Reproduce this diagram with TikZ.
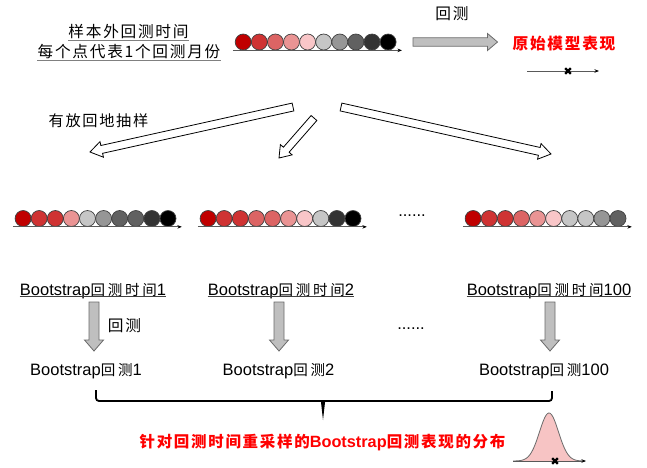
\documentclass[tikz,border=0pt]{standalone}
\usepackage{fontspec}
\setmainfont{Liberation Sans}
\newfontfamily\zhf{Noto Sans CJK SC}[Scale=0.95,LetterSpace=11]
\newfontfamily\zhsf{Noto Sans CJK SC}[Scale=0.88,LetterSpace=19]
\newcommand\zh[1]{{\zhf #1}}
\newcommand\zhs[1]{{\zhsf #1}}
\usetikzlibrary{calc,arrows.meta}
\definecolor{c1}{HTML}{C00000}
\definecolor{c2}{HTML}{CF3333}
\definecolor{c3}{HTML}{DC6464}
\definecolor{c4}{HTML}{EA9494}
\definecolor{c5}{HTML}{F9C6C8}
\definecolor{c6}{HTML}{C6C6C6}
\definecolor{c7}{HTML}{969696}
\definecolor{c8}{HTML}{616161}
\definecolor{c9}{HTML}{333333}
\definecolor{c10}{HTML}{000000}
\definecolor{edgec}{HTML}{404040}
\definecolor{axisc}{HTML}{595959}
\definecolor{gfill}{HTML}{BFBFBF}
\definecolor{gedge}{HTML}{6A6A6A}
\definecolor{ulgray}{HTML}{808080}
\definecolor{uldark}{HTML}{404040}
\definecolor{bellfill}{HTML}{F7C4C4}
\definecolor{myred}{HTML}{FF0000}
\newcommand\blockarrow[6][]{%
  \coordinate (bah) at ($(#3)!#6!(#2)$);
  \draw[#1] ($(#2)!#4!90:(#3)$) -- ($(bah)!#4!90:(#3)$) -- ($(bah)!#5!90:(#3)$) -- (#3)
     -- ($(bah)!#5!-90:(#3)$) -- ($(bah)!#4!-90:(#3)$) -- ($(#2)!#4!-90:(#3)$) -- cycle;}
\newcommand\dotrow[4]{%
  \foreach \c [count=\i] in {#4} \node[dotc,fill=\c] (#1-\i) at ({#2+(\i-1)*16.1},#3) {};
  \draw[axisline] ([xshift=-2pt]#1-1.west |- #1-1.south) -- ([xshift=5.5pt]#1-10.east |- #1-10.south);}
\newcommand\xmark[1]{%
  \draw[line width=2.3pt,black] ([shift={(-2.8pt,-2.8pt)}]#1) -- ([shift={(2.8pt,2.8pt)}]#1)
     ([shift={(-2.8pt,2.8pt)}]#1) -- ([shift={(2.8pt,-2.8pt)}]#1);}
\begin{document}
\begin{tikzpicture}[x=1pt,y=-1pt,
  txt/.style={inner sep=0pt, anchor=base, font=\fontsize{16.5}{20}\selectfont},
  dotc/.style={circle, draw=edgec, line width=0.7pt, minimum size=16pt, inner sep=0pt},
  axisline/.style={draw=axisc, line width=1pt, -{Stealth[length=4.5pt,width=3.5pt,color=black]}},
  hollow/.style={draw=black, fill=white, line width=0.8pt, line join=miter},
  grayarrow/.style={draw=gedge, fill=gfill, line width=0.8pt, line join=miter},
  ulA/.style={draw=ulgray, line width=1.3pt},
  ulB/.style={draw=uldark, line width=1pt},
  bracec/.style={draw=black, line width=1.8pt, rounded corners=3pt},
  smallaxis/.style={draw=axisc, line width=1pt, -{Stealth[length=4.5pt,width=3.5pt,color=black]}}]
\useasboundingbox (0,0) rectangle (647,467);

% top-left description
\node[txt] (d1) at (128.5,37) {\zh{样本外回测时间}};
\node[txt] (d2) at (129,57) {\zh{每个点代表1个回测月份}};
\draw[ulA] ([yshift=-3.5pt]d1.base west) -- ([yshift=-3.5pt]d1.base east);
\draw[ulA] ([yshift=-3.5pt]d2.base west) -- ([yshift=-3.5pt]d2.base east);

% original row
\dotrow{t}{243.2}{42}{c1,c2,c3,c4,c5,c6,c7,c8,c9,c10}

% backtest arrow
\node[txt] (bt) at (452,19) {\zh{回测}};
\coordinate (g0) at (413,42);
\coordinate (g1) at (497.5,42);
\blockarrow[grayarrow]{g0}{g1}{4.2pt}{8.5pt}{10pt}
\node[txt, text=myred, font=\fontsize{16.5}{20}\selectfont\bfseries] (orig) at (564,49) {\zh{原始模型表现}};
\coordinate (sa0) at (527,71);
\coordinate (sa1) at (599,71);
\draw[smallaxis] (sa0) -- (sa1);
\coordinate (ox) at (568,71);
\xmark{ox}

% sampling arrows
\node[txt, font=\fontsize{16}{20}\selectfont] (samp) at (98.5,126) {\zh{有放回地抽样}};
\coordinate (aA0) at (293,107);
\coordinate (aA1) at (90,152);
\coordinate (aB0) at (314,118);
\coordinate (aB1) at (279,158);
\coordinate (aC0) at (341,107);
\coordinate (aC1) at (551,154);
\blockarrow[hollow]{aA0}{aA1}{4pt}{8pt}{12pt}
\blockarrow[hollow]{aB0}{aB1}{3.8pt}{7.8pt}{11pt}
\blockarrow[hollow]{aC0}{aC1}{4pt}{8pt}{12pt}

% bootstrap rows
\dotrow{b1}{23.1}{218.5}{c1,c2,c2,c4,c6,c7,c8,c8,c9,c10}
\dotrow{b2}{208.1}{218.5}{c1,c2,c2,c3,c3,c4,c5,c6,c9,c10}
\dotrow{b3}{473.1}{218.5}{c1,c2,c2,c3,c4,c5,c6,c6,c7,c8}
\node[txt] (dots1) at (412,216) {......};

\node[txt] (l1) at (93,295) {Bootstrap\zhs{回测时间}1};
\node[txt] (l2) at (281,295) {Bootstrap\zhs{回测时间}2};
\node[txt] (l3) at (549,295) {Bootstrap\zhs{回测时间}100};
\foreach \n in {l1,l2,l3}
  \draw[ulB] ([yshift=-1.8pt]\n.base west) -- ([yshift=-1.8pt]\n.base east);

% vertical arrows
\coordinate (v10) at (94,302);  \coordinate (v11) at (94,351);
\coordinate (v20) at (279,302); \coordinate (v21) at (279,351);
\coordinate (v30) at (550,302); \coordinate (v31) at (550,351);
\blockarrow[grayarrow]{v10}{v11}{5pt}{9.5pt}{11pt}
\blockarrow[grayarrow]{v20}{v21}{5pt}{9.5pt}{11pt}
\blockarrow[grayarrow]{v30}{v31}{5pt}{9.5pt}{11pt}
\node[txt] (bt2) at (124.5,331) {\zh{回测}};
\node[txt] (dots2) at (411,329) {......};

\node[txt] (r1) at (86,375) {Bootstrap\zhs{回测}1};
\node[txt] (r2) at (278.5,375) {Bootstrap\zhs{回测}2};
\node[txt] (r3) at (544,375) {Bootstrap\zhs{回测}100};

% brace
\draw[bracec] (96,390) |- (552,401) -- (552,391);
\fill[black] (320.8,400.5) -- (323,420) -- (325.2,400.5) -- cycle;

\node[txt, text=myred, font=\fontsize{16.3}{20}\selectfont\bfseries] (dist) at (322.5,447) {\zh{针对回测时间重采样的}Bootstrap\zh{回测表现的分布}};

% bell curve
\fill[bellfill] plot[domain=513:583, samples=80] (\x,{461-48*exp(-((\x-549)*(\x-549))/(2*9.5*9.5))}) -- cycle;
\draw[gedge, line width=0.8pt] plot[domain=513:583, samples=80] (\x,{461-48*exp(-((\x-549)*(\x-549))/(2*9.5*9.5))});
\coordinate (ba0) at (513,461);
\coordinate (ba1) at (586,461);
\draw[smallaxis] (ba0) -- (ba1);
\coordinate (bx) at (555,461);
\xmark{bx}
\end{tikzpicture}
\end{document}
